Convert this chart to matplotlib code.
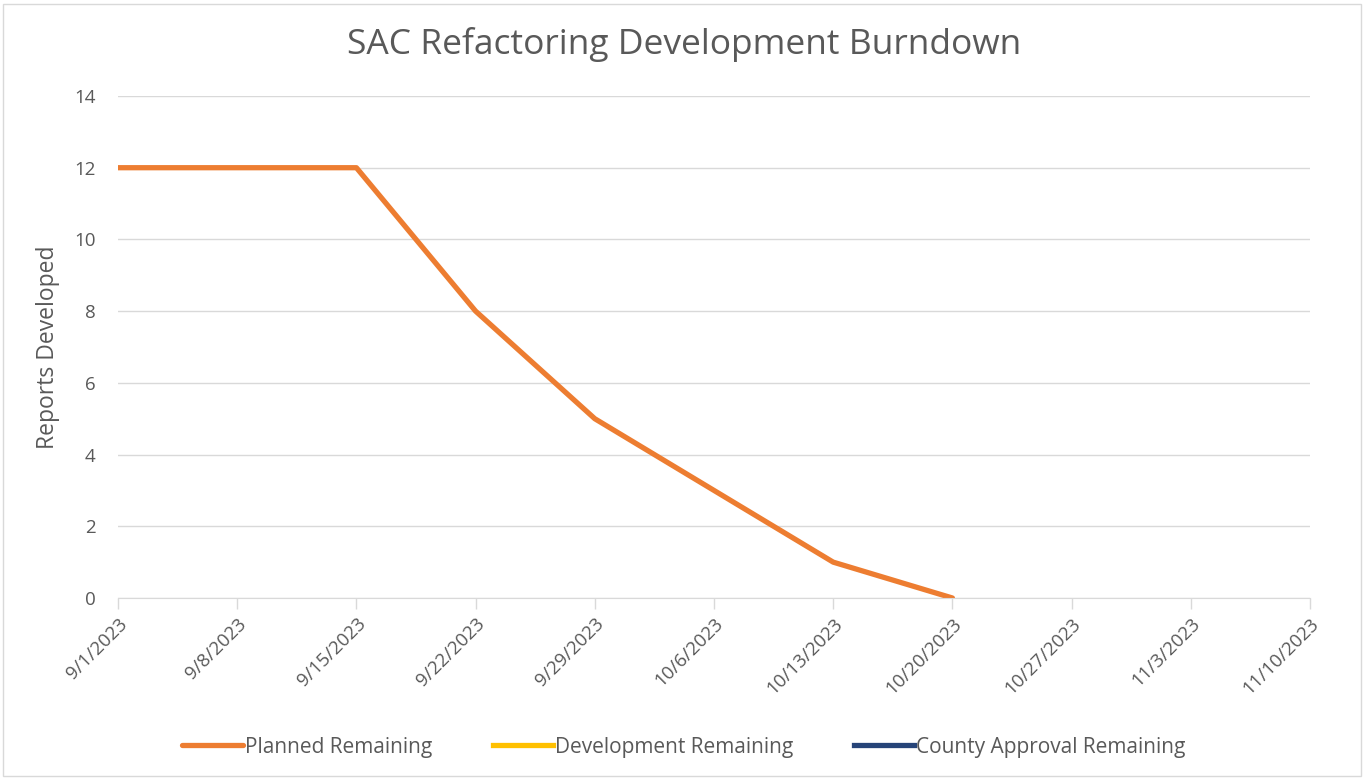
import matplotlib.pyplot as plt
import matplotlib.dates as mdates
import pandas as pd
from matplotlib.patches import Rectangle

# data
dates = pd.to_datetime(["2023-09-01", "2023-09-15", "2023-09-22", "2023-09-29",
                        "2023-10-06", "2023-10-13", "2023-10-20"])
planned = [12, 12, 8, 5, 3, 1, 0]
tick_dates = pd.date_range("2023-09-01", "2023-11-10", freq="7D")
tick_labels = [f"{d.month}/{d.day}/{d.year}" for d in tick_dates]

gray = "#595959"
plt.rcParams["font.family"] = ["Open Sans", "DejaVu Sans"]

fig = plt.figure(figsize=(13.68, 7.8), dpi=100)
ax = fig.add_axes([118 / 1368, 1 - 598 / 780, (1310 - 118) / 1368, (598 - 96) / 780])

ax.plot(dates, planned, color="#ED7D31", lw=3.8, solid_capstyle="round",
        solid_joinstyle="round", label="Planned Remaining")
ax.plot([], [], color="#FFC000", lw=3.8, label="Development Remaining")
ax.plot([], [], color="#264478", lw=3.8, label="County Approval Remaining")

ax.set_xlim(tick_dates[0], tick_dates[-1])
ax.set_ylim(0, 14)
ax.set_yticks(range(0, 15, 2))
ax.set_xticks(tick_dates)
ax.set_xticklabels(tick_labels, rotation=45, ha="right", rotation_mode="anchor")
ax.grid(axis="y", color="#d9d9d9", lw=1)
ax.set_axisbelow(True)

for s in ["top", "right", "left"]:
    ax.spines[s].set_visible(False)
ax.spines["bottom"].set_color("#d9d9d9")
ax.tick_params(axis="x", colors="#d9d9d9", length=8, width=1, labelcolor=gray,
               labelsize=13.5, pad=4)
ax.tick_params(axis="y", length=0, labelcolor=gray, labelsize=13.5, pad=16)

ax.set_ylabel("Reports Developed", color=gray, fontsize=16.5, labelpad=10)
fig.text(0.5, 1 - 45 / 780, "SAC Refactoring Development Burndown", ha="center",
         va="center", color=gray, fontsize=25.5)

fig.legend(loc="center", bbox_to_anchor=(0.5, 1 - 747 / 780), ncol=3, frameon=False,
           fontsize=15, labelcolor=gray, handlelength=2.9, handletextpad=0.1,
           columnspacing=2.9)

fig.patches.append(Rectangle((3 / 1368, 1 - 776 / 780), 1358 / 1368, 772 / 780,
                             transform=fig.transFigure, fill=False,
                             edgecolor="#d9d9d9", lw=1))

fig.savefig("out.png", dpi=100, facecolor="white")
